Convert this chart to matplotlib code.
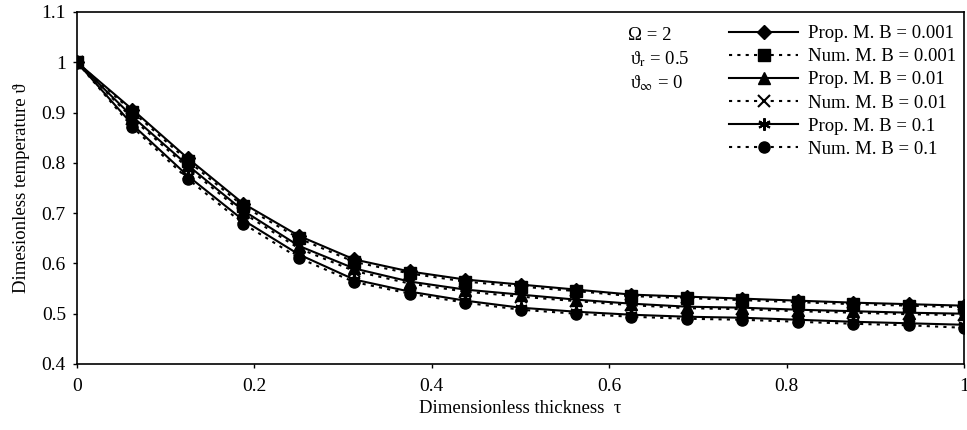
import numpy as np
import matplotlib.pyplot as plt

plt.rcParams['font.family'] = ['Liberation Serif', 'DejaVu Serif']
plt.rcParams['mathtext.fontset'] = 'stix'

# dimensionless thickness, 17 nodes
tau = [0, 0.0625, 0.125, 0.1875, 0.25, 0.3125, 0.375, 0.4375, 0.5,
       0.5625, 0.625, 0.6875, 0.75, 0.8125, 0.875, 0.9375, 1.0]

# proposed method
prop_b0001 = [1.0, 0.906, 0.809, 0.719, 0.655, 0.608, 0.584, 0.568, 0.558,
              0.548, 0.538, 0.534, 0.530, 0.526, 0.522, 0.519, 0.516]
prop_b001 = [1.0, 0.892, 0.795, 0.705, 0.635, 0.590, 0.564, 0.548, 0.538,
             0.528, 0.520, 0.514, 0.512, 0.508, 0.505, 0.502, 0.500]
prop_b01 = [1.0, 0.876, 0.774, 0.686, 0.618, 0.568, 0.544, 0.526, 0.512,
            0.504, 0.498, 0.494, 0.492, 0.488, 0.484, 0.481, 0.478]

# numerical method
num_b0001 = [1.0, 0.902, 0.804, 0.714, 0.650, 0.603, 0.580, 0.564, 0.554,
             0.545, 0.535, 0.531, 0.527, 0.523, 0.519, 0.516, 0.513]
num_b001 = [1.0, 0.888, 0.790, 0.700, 0.630, 0.585, 0.560, 0.544, 0.534,
            0.525, 0.517, 0.511, 0.509, 0.505, 0.502, 0.499, 0.497]
num_b01 = [1.0, 0.871, 0.768, 0.679, 0.611, 0.563, 0.540, 0.522, 0.508,
           0.500, 0.494, 0.490, 0.488, 0.484, 0.480, 0.477, 0.472]

W, H = 967, 430
fig = plt.figure(figsize=(W / 100, H / 100), dpi=100)
ax = fig.add_axes([77 / W, 1 - 364 / H, 887 / W, 352 / H])

dots = (0, (1.5, 2.5))
ms = 8
ax.plot(tau, prop_b0001, color='k', lw=1.5, marker='D', ms=ms - 1,
        label='Prop. M. B = 0.001')
ax.plot(tau, num_b0001, color='k', lw=1.5, ls=dots, marker='s', ms=ms,
        label='Num. M. B = 0.001')
ax.plot(tau, prop_b001, color='k', lw=1.5, marker='^', ms=ms,
        label='Prop. M. B = 0.01')
ax.plot(tau, num_b001, color='k', lw=1.5, ls=dots, marker='x', ms=ms,
        mew=1.5, label='Num. M. B = 0.01')
ax.plot(tau, prop_b01, color='k', lw=1.5, marker=(6, 2, 0), ms=ms + 1,
        mew=1.5, label='Prop. M. B = 0.1')
ax.plot(tau, num_b01, color='k', lw=1.5, ls=dots, marker='o', ms=ms,
        label='Num. M. B = 0.1')

ax.set_xlim(0, 1)
ax.set_ylim(0.4, 1.1)
ax.set_xticks([0, 0.2, 0.4, 0.6, 0.8, 1])
ax.set_xticklabels(['0', '0.2', '0.4', '0.6', '0.8', '1'])
ax.set_yticks([0.4, 0.5, 0.6, 0.7, 0.8, 0.9, 1.0, 1.1])
ax.set_yticklabels(['0.4', '0.5', '0.6', '0.7', '0.8', '0.9', '1', '1.1'])
ax.tick_params(labelsize=14, direction='out', length=3, width=1)
ax.tick_params(axis='x', pad=7)
ax.tick_params(axis='y', pad=5)
for s in ax.spines.values():
    s.set_linewidth(1.2)

ax.set_xlabel('Dimensionless thickness  τ', fontsize=13.5, labelpad=4)
ax.set_ylabel('Dimesionless temperature ϑ', fontsize=13.5, labelpad=8)

fig.text(628 / W, 1 - 36 / H, 'Ω = 2', fontsize=13.5, va='center')
fig.text(630 / W, 1 - 59 / H, r'ϑ$_{\rm r}$ = 0.5', fontsize=13.5, va='center')
fig.text(630 / W, 1 - 83 / H, r'ϑ$_{\infty}$ = 0', fontsize=13.5, va='center')

ax.legend(loc='upper left', bbox_to_anchor=(729 / W, 1 - 25 / H),
          bbox_transform=fig.transFigure, frameon=False,
          fontsize=13.5, handlelength=3.7, labelspacing=0.32,
          handletextpad=0.5, borderpad=0, borderaxespad=0)

fig.savefig('out.png', dpi=100)
